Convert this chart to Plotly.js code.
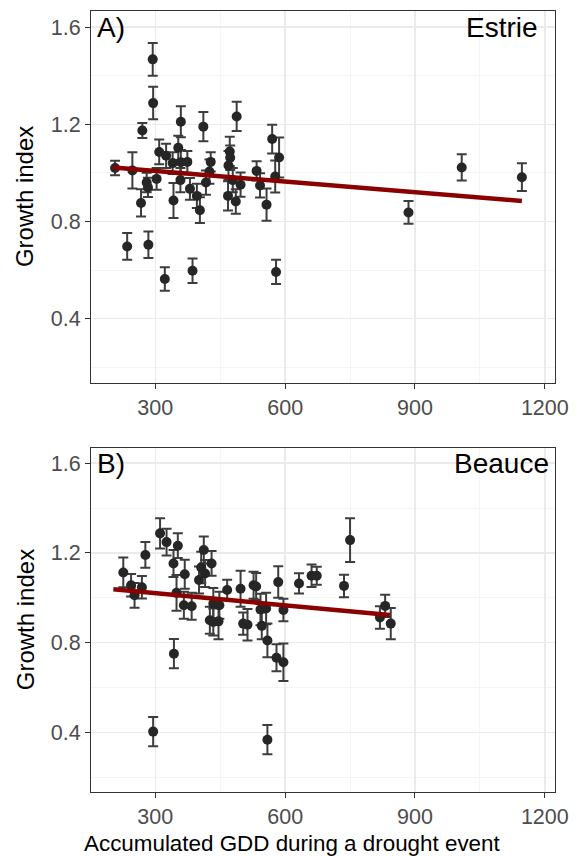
<!DOCTYPE html>
<html>
<head>
<meta charset="utf-8">
<script src="https://cdn.plot.ly/plotly-3.0.1.min.js"></script>
<style>html,body{margin:0;padding:0;background:#fff;}#chart{width:578px;height:856px;}</style>
</head>
<body>
<div id="chart"></div>
<script>
// Panel A: Estrie
const estrieGDD = [207,247,235,270,267,280,283,284,294,295,303,309,325,340,322,353,359,359,374,342,358,380,386,396,403,411,417,425,428,468,469,472,473,479,486,488,497,534,542,557,570,586,577,579,885,1008,1147];
const estrieGrowth = [1.02,1.01,0.697,1.174,0.876,0.96,0.94,0.704,1.467,1.287,0.975,1.086,1.07,1.04,0.563,1.103,1.21,1.044,1.045,0.886,0.97,0.934,0.597,0.905,0.846,1.19,0.96,1.005,1.045,0.905,1.03,1.088,1.062,0.97,0.882,1.232,0.951,1.008,0.948,0.869,1.139,1.063,0.985,0.592,0.837,1.022,0.982];
const estrieErr = [0.03,0.075,0.055,0.031,0.056,0.04,0.04,0.055,0.067,0.067,0.045,0.051,0.05,0.045,0.048,0.05,0.064,0.05,0.045,0.072,0.05,0.045,0.05,0.05,0.053,0.06,0.05,0.05,0.04,0.06,0.06,0.06,0.05,0.05,0.05,0.06,0.05,0.04,0.05,0.066,0.059,0.082,0.066,0.05,0.047,0.054,0.057];
const estrieFitX = [203, 1147];
const estrieFitY = [1.022, 0.884];

// Panel B: Beauce
const beauceGDD = [226,244,252,269,277,295,311,326,342,343,349,352,368,366,384,401,406,412,415,430,426,434,434,448,446,466,497,503,513,527,533,543,546,556,559,559,580,584,596,596,632,661,673,736,750,819,831,844];
const beauceGrowth = [1.113,1.056,1.011,1.047,1.191,0.404,1.287,1.248,1.153,0.751,1.022,1.232,1.105,0.967,0.962,1.079,1.135,1.213,1.108,1.153,0.9,0.974,0.892,0.967,0.895,1.035,1.04,0.885,0.88,1.056,1.05,0.948,0.875,0.952,0.81,0.368,0.733,1.07,0.946,0.713,1.064,1.098,1.098,1.053,1.257,0.912,0.964,0.885];
const beauceErr = [0.066,0.05,0.055,0.05,0.057,0.065,0.067,0.06,0.06,0.065,0.08,0.055,0.065,0.06,0.06,0.06,0.07,0.06,0.06,0.055,0.06,0.07,0.06,0.06,0.08,0.045,0.08,0.05,0.07,0.06,0.06,0.07,0.06,0.07,0.075,0.065,0.06,0.07,0.05,0.084,0.045,0.05,0.04,0.05,0.097,0.05,0.05,0.07];
const beauceFitX = [203, 842];
const beauceFitY = [1.038, 0.923];

const xTickVals = [300, 600, 900, 1200];
const yTickVals = [0.4, 0.8, 1.2, 1.6];
const panelLabels = ["A)", "B)"];
const regionLabels = ["Estrie", "Beauce"];
const xTitle = "Accumulated GDD during a drought event";
const yTitle = "Growth index";

const FONT = "Liberation Sans, Arial, Helvetica, sans-serif";
const ptColor = "#262626";
const errColor = "#3d3d3d";
const fitColor = "#8B0000";

function pointsTrace(x, y, e, xa, ya) {
  return {
    type: "scatter", mode: "markers", x: x, y: y, xaxis: xa, yaxis: ya,
    marker: {color: ptColor, size: 10},
    error_y: {type: "data", array: e, visible: true, color: errColor, thickness: 2, width: 5},
    showlegend: false, hoverinfo: "x+y"
  };
}
function fitTrace(x, y, xa, ya) {
  return {
    type: "scatter", mode: "lines", x: x, y: y, xaxis: xa, yaxis: ya,
    line: {color: fitColor, width: 4.5}, showlegend: false
  };
}

const data = [
  pointsTrace(estrieGDD, estrieGrowth, estrieErr, "x", "y"),
  fitTrace(estrieFitX, estrieFitY, "x", "y"),
  pointsTrace(beauceGDD, beauceGrowth, beauceErr, "x2", "y2"),
  fitTrace(beauceFitX, beauceFitY, "x2", "y2")
];

const xRange = [151.4, 1223.5];
const yRange = [0.135, 1.666];

function xAxis(anchor) {
  return {
    anchor: anchor, range: xRange, tickvals: xTickVals, ticktext: xTickVals.map(String),
    showgrid: true, gridcolor: "#EBEBEB", gridwidth: 1.4, zeroline: false,
    showline: true, mirror: true, linecolor: "#333333", linewidth: 1,
    ticks: "outside", ticklen: 5, tickcolor: "#333333", tickwidth: 1,
    tickfont: {family: FONT, size: 21.5, color: "#4D4D4D"},
    minor: {tickvals: [150, 450, 750, 1050], showgrid: true, gridcolor: "#F2F2F2", gridwidth: 0.8, ticks: ""},
    fixedrange: true
  };
}
function yAxis(anchor, domain) {
  return {
    anchor: anchor, domain: domain, range: yRange, tickvals: yTickVals, ticktext: yTickVals.map(v => v.toFixed(1)),
    showgrid: true, gridcolor: "#EBEBEB", gridwidth: 1.4, zeroline: false,
    showline: true, mirror: true, linecolor: "#333333", linewidth: 1,
    ticks: "outside", ticklen: 5, tickcolor: "#333333", tickwidth: 1,
    tickfont: {family: FONT, size: 21.5, color: "#4D4D4D"},
    minor: {tickvals: [0.2, 0.6, 1.0, 1.4], showgrid: true, gridcolor: "#F2F2F2", gridwidth: 0.8, ticks: ""},
    fixedrange: true
  };
}

const annFont = {family: FONT, size: 28, color: "#000"};
const layout = {
  width: 578, height: 856,
  margin: {l: 91, r: 23, t: 11, b: 64},
  paper_bgcolor: "#fff", plot_bgcolor: "#fff",
  xaxis: xAxis("y"),
  yaxis: yAxis("x", [0.5237, 1]),
  xaxis2: xAxis("y2"),
  yaxis2: yAxis("x2", [0, 0.4401]),
  annotations: [
    {text: panelLabels[0], xref: "x domain", yref: "y domain", x: 0.008, y: 1.003, xanchor: "left", yanchor: "top", showarrow: false, font: annFont},
    {text: regionLabels[0], xref: "x", yref: "y domain", x: 1101, y: 1.003, xanchor: "center", yanchor: "top", showarrow: false, font: annFont},
    {text: panelLabels[1], xref: "x2 domain", yref: "y2 domain", x: 0.008, y: 1.006, xanchor: "left", yanchor: "top", showarrow: false, font: annFont},
    {text: regionLabels[1], xref: "x2", yref: "y2 domain", x: 1101, y: 1.006, xanchor: "center", yanchor: "top", showarrow: false, font: annFont},
    {text: yTitle, xref: "paper", yref: "y domain", x: -0.142, y: 0.5, xanchor: "center", yanchor: "middle", textangle: -90, showarrow: false, font: {family: FONT, size: 24, color: "#000"}},
    {text: yTitle, xref: "paper", yref: "y2 domain", x: -0.142, y: 0.5, xanchor: "center", yanchor: "middle", textangle: -90, showarrow: false, font: {family: FONT, size: 24, color: "#000"}},
    {text: xTitle, xref: "paper", yref: "paper", x: 0.4332, y: -0.0655, xanchor: "center", yanchor: "middle", showarrow: false, font: {family: FONT, size: 22.4, color: "#000"}}
  ]
};

Plotly.newPlot("chart", data, layout, {displayModeBar: false, staticPlot: true});
</script>
</body>
</html>
